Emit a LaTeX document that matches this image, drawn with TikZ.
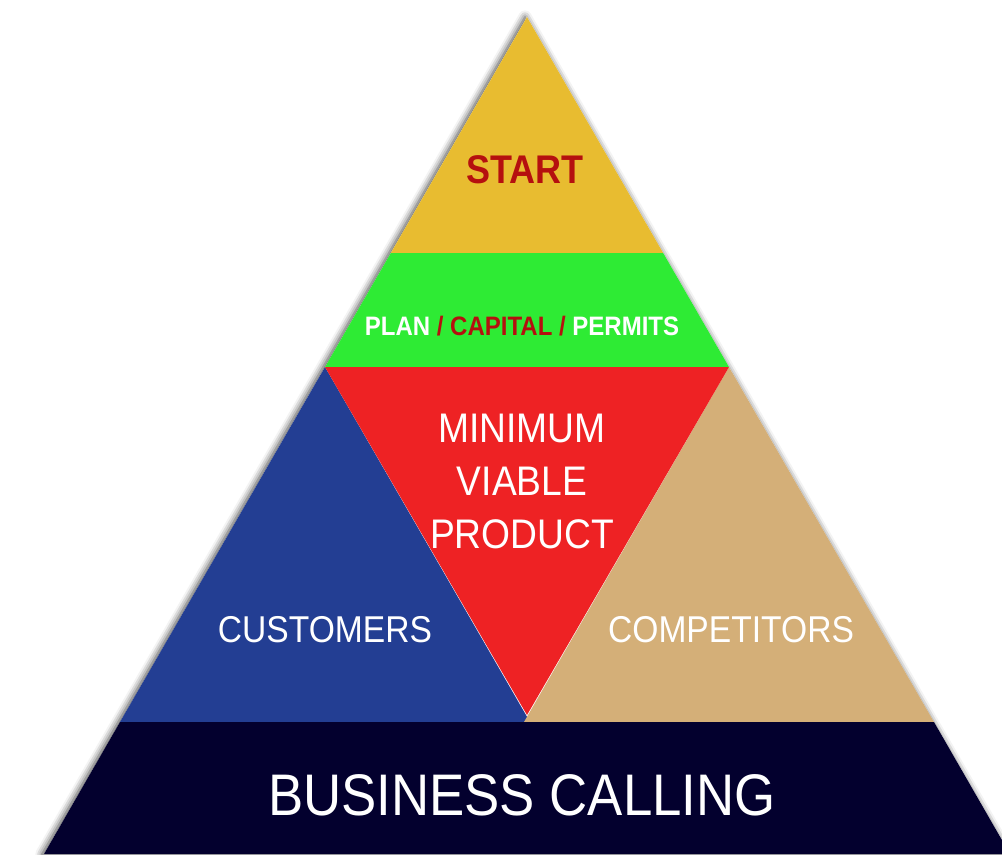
\documentclass[tikz,border=0pt]{standalone}
\usepackage{xcolor}
\usepackage{fontspec}
\setmainfont[FakeStretch=0.9]{Liberation Sans}
\usetikzlibrary{shadows.blur}

\definecolor{startyellow}{RGB}{232,188,48}
\definecolor{plangreen}{RGB}{46,235,52}
\definecolor{mvpred}{RGB}{238,34,36}
\definecolor{custblue}{RGB}{35,62,147}
\definecolor{comptan}{RGB}{212,175,120}
\definecolor{basenavy}{RGB}{3,0,46}
\definecolor{darkred}{RGB}{181,16,15}

\begin{document}
\begin{tikzpicture}[x=0.75pt,y=0.75pt,yscale=-1,xscale=1]
\useasboundingbox (0,0) rectangle (1002,854);
\clip (0,0) rectangle (1002,854);

%Shape: Triangle shadow [id:pyramid]
\fill [white, blur shadow={shadow xshift=-1.5pt, shadow yshift=0pt, shadow blur radius=5pt, shadow opacity=75}] (527,17) -- (1010,854) -- (44,854) -- cycle ;
%Shape: Triangle [id:start]
\fill  [color=startyellow] (527,17) -- (663.2,253) -- (390.8,253) -- cycle ;
%Shape: Trapezoid [id:plan]
\fill  [color=plangreen] (390.8,253) -- (663.2,253) -- (729,367) -- (325,367) -- cycle ;
%Shape: Triangle [id:customers]
\fill  [color=custblue] (325,367) -- (530,722) -- (120,722) -- cycle ;
%Shape: Triangle [id:competitors]
\fill  [color=comptan] (729,367) -- (934,722) -- (524,722) -- cycle ;
%Shape: Triangle [id:mvp]
\fill  [color=mvpred] (325,367) -- (729,367) -- (527,715) -- cycle ;
%Shape: Trapezoid [id:business]
\fill  [color=basenavy] (120,722) -- (934,722) -- (1010,854) -- (44,854) -- cycle ;

% Text Node
\draw (525,183) node [anchor=base][inner sep=0pt] (start) {\fontsize{30}{36}\selectfont\bfseries\color{darkred} START};
% Text Node
\draw (522,335) node [anchor=base][inner sep=0pt] (plan) {\fontsize{20}{24}\selectfont\bfseries\color{white} PLAN {\color{darkred}/ CAPITAL /} PERMITS};
% Text Node
\draw (522,442) node [anchor=base][inner sep=0pt] (mvp1) {\fontsize{31}{36}\selectfont\color{white} MINIMUM};
% Text Node
\draw (522,495) node [anchor=base][inner sep=0pt] (mvp2) {\fontsize{31}{36}\selectfont\color{white} VIABLE};
% Text Node
\draw (522,548) node [anchor=base][inner sep=0pt] (mvp3) {\fontsize{31}{36}\selectfont\color{white} PRODUCT};
% Text Node
\draw (325,642) node [anchor=base][inner sep=0pt] (customers) {\fontsize{28}{34}\selectfont\color{white} CUSTOMERS};
% Text Node
\draw (731,642) node [anchor=base][inner sep=0pt] (competitors) {\fontsize{28}{34}\selectfont\color{white} COMPETITORS};
% Text Node
\draw (522,815) node [anchor=base][inner sep=0pt] (business) {\fontsize{44}{52}\selectfont\color{white} BUSINESS CALLING};

\end{tikzpicture}
\end{document}
